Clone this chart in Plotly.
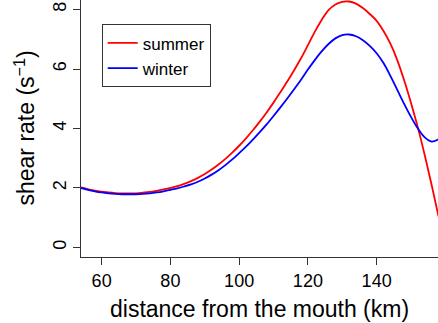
import plotly.graph_objects as go

# distance from the mouth (km)
distance_km = [54, 56, 58, 60, 62, 64, 66, 68, 70, 72, 74, 76, 78, 80, 82, 84, 86, 88,
               90, 92, 94, 96, 98, 100, 102, 104, 106, 108, 110, 112, 114, 116, 118,
               120, 122, 124, 126, 128, 130, 132, 134, 136, 138, 140, 142, 144, 146,
               148, 150, 152, 154, 156, 158]

# shear rate (1/s), summer season
summer = [2.02, 1.96, 1.91, 1.88, 1.85, 1.83, 1.82, 1.82, 1.82, 1.84, 1.87, 1.90, 1.95,
          2.00, 2.06, 2.14, 2.23, 2.34, 2.47, 2.62, 2.79, 2.98, 3.19, 3.42, 3.67, 3.94,
          4.23, 4.54, 4.87, 5.22, 5.58, 5.96, 6.36, 6.80, 7.25, 7.65, 7.98, 8.17, 8.26,
          8.27, 8.20, 8.05, 7.85, 7.62, 7.28, 6.85, 6.30, 5.62, 4.86, 4.03, 3.10, 2.10,
          1.05]

# shear rate (1/s), winter season
winter = [2.00, 1.94, 1.89, 1.85, 1.82, 1.80, 1.79, 1.79, 1.79, 1.80, 1.82, 1.85, 1.89,
          1.94, 1.99, 2.05, 2.12, 2.21, 2.32, 2.45, 2.60, 2.77, 2.96, 3.17, 3.39, 3.63,
          3.88, 4.14, 4.42, 4.71, 5.01, 5.32, 5.64, 5.98, 6.30, 6.59, 6.84, 7.03, 7.14,
          7.16, 7.10, 6.97, 6.78, 6.53, 6.20, 5.77, 5.30, 4.83, 4.39, 4.00, 3.70, 3.56,
          3.64]

x_ticks = [60, 80, 100, 120, 140]
y_ticks = [0, 2, 4, 6, 8]

FONT = "Liberation Sans, Arial, Helvetica, sans-serif"

fig = go.Figure()
fig.add_trace(go.Scatter(x=distance_km, y=summer, mode="lines", name="summer",
                         line=dict(color="#FF0000", width=1.8, shape="spline")))
fig.add_trace(go.Scatter(x=distance_km, y=winter, mode="lines", name="winter",
                         line=dict(color="#0000FF", width=1.8, shape="spline")))

fig.update_layout(
    width=438, height=323,
    margin=dict(l=81, r=0, t=0, b=66),
    paper_bgcolor="white", plot_bgcolor="white",
    font=dict(family=FONT, color="black", size=18),
    showlegend=True,
    legend=dict(
        x=0.058, y=0.905, xanchor="left", yanchor="top",
        bgcolor="white", bordercolor="#333333", borderwidth=1,
        font=dict(family=FONT, size=17, color="black"),
        itemwidth=30, tracegroupgap=0,
    ),
    xaxis=dict(
        range=[54.0, 157.85], tickvals=x_ticks, ticks="outside", ticklen=7,
        tickcolor="#333333", showgrid=False, zeroline=False,
        showline=True, linecolor="#333333", linewidth=1, mirror=True,
        tickfont=dict(size=18),
    ),
    yaxis=dict(
        range=[-0.32, 8.32], tickvals=y_ticks, ticks="outside", ticklen=7,
        tickcolor="#333333", showgrid=False, zeroline=False,
        showline=True, linecolor="#333333", linewidth=1, mirror=False,
        tickangle=-90, tickfont=dict(size=18),
    ),
    annotations=[
        dict(text="distance from the mouth (km)", xref="paper", yref="paper",
             x=0.5, y=0, xanchor="center", yanchor="middle", yshift=-52,
             showarrow=False, font=dict(size=23)),
        dict(text="shear rate (s<sup>\u22121</sup>)", xref="paper", yref="paper",
             x=0, y=0.5, xanchor="center", yanchor="middle", xshift=-57,
             textangle=-90, showarrow=False, font=dict(size=23)),
    ],
)

fig.write_html("out.html")
